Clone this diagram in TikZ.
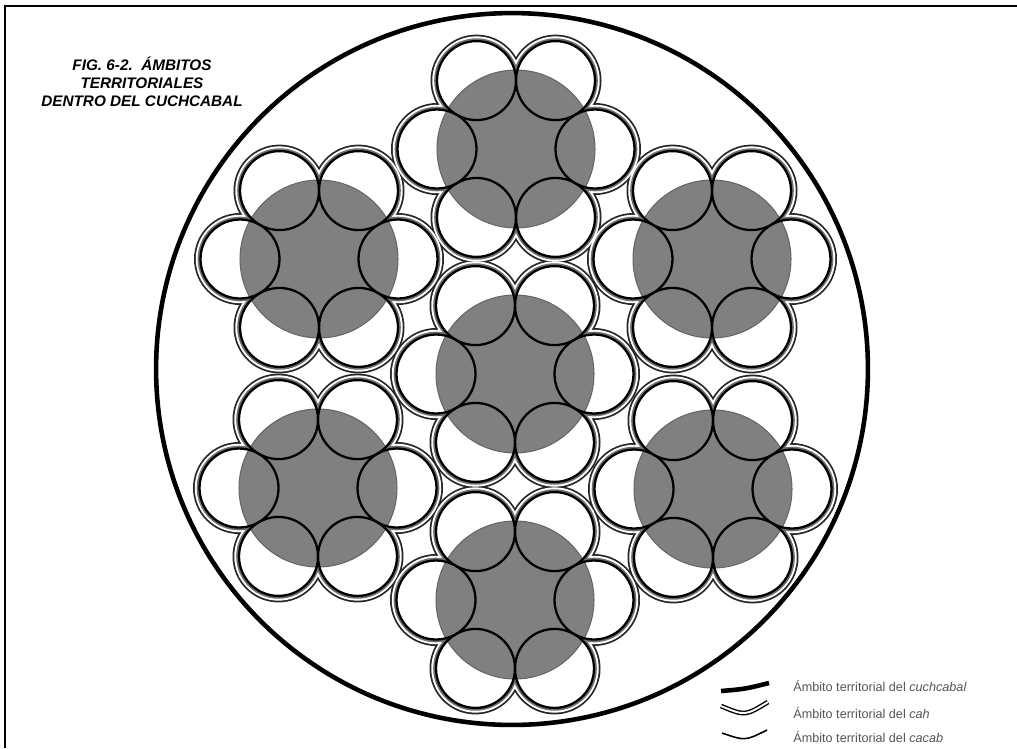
\documentclass[tikz,border=0pt]{standalone}
\usepackage{fontspec}
\setmainfont{Liberation Sans}
\usetikzlibrary{positioning}
\definecolor{cabgray}{RGB}{128,128,128}
\definecolor{cabedge}{RGB}{110,110,110}
\definecolor{cabtext}{RGB}{85,85,85}
\tikzset{
  cahouter/.style={draw=black!85, line width=7.4pt},
  cahwhite/.style={draw=white, line width=5.4pt},
  cahinner/.style={draw=cabedge, line width=3.2pt},
  cahfill/.style={fill=white},
  batabdisc/.style={fill=cabgray, draw=black!60, line width=0.6pt},
  cacabline/.style={draw=black, line width=1.3pt},
  cuchline/.style={draw=black, line width=2.6pt},
  frameline/.style={draw=black, line width=1.7pt},
  figtitle/.style={font=\bfseries\itshape\fontsize{8.7}{10.4}\selectfont, align=center},
  legtext/.style={font=\fontsize{7.2}{8}\selectfont, text=cabtext, anchor=west, inner sep=0pt}
}

\begin{document}
\begin{tikzpicture}[x=0.02cm, y=0.02cm]
\useasboundingbox (0,0) rectangle (1017,-748);

% -------- FRAME --------
\draw[frameline] (5,-748) -- (5,-6) -- (1017,-6);

% -------- CUCHCABAL --------
\draw[cuchline] (512,-369) circle[radius=7.12cm];

% -------- CAH: outer envelope of the six cacab circles --------
\foreach \st in {cahouter,cahwhite,cahinner,cahfill}
  \foreach \cx/\cy in {515/-374,516/-149,319/-259,712/-259,318/-488,713/-489,515/-600}
    \foreach \a in {0,60,...,300}
      \path[\st] ({\cx+79*cos(\a)},{\cy+79*sin(\a)}) circle[radius=0.79cm];

% -------- BATAB: gray discs --------
\foreach \cx/\cy in {515/-374,516/-149,319/-259,712/-259,318/-488,713/-489,515/-600}
  \path[batabdisc] (\cx,\cy) circle[radius=1.58cm];

% -------- CACAB circles --------
\foreach \cx/\cy in {515/-374,516/-149,319/-259,712/-259,318/-488,713/-489,515/-600}
  \foreach \a in {0,60,...,300}
    \path[cacabline] ({\cx+79*cos(\a)},{\cy+79*sin(\a)}) circle[radius=0.79cm];

% -------- TITLE --------
\node[figtitle] (title) at (142,-82) {FIG. 6-2.\ \ ÁMBITOS\\TERRITORIALES\\DENTRO DEL CUCHCABAL};

% -------- LEGEND --------
\node[legtext] (legcuch) at (793,-686) {Ámbito territorial del \textit{cuchcabal}};
\node[legtext] (legcah) at (793,-713) {Ámbito territorial del \textit{cah}};
\node[legtext] (legcacab) at (793,-737) {Ámbito territorial del \textit{cacab}};

\draw[cuchline] (721,-691) .. controls (745,-689) .. (769,-683);
\draw[draw=black, line width=0.8pt, double=white, double distance=1.1pt] (721,-706) .. controls (745,-716) .. (768,-702);
\draw[draw=black, line width=0.9pt] (722,-733) .. controls (745,-741) .. (767,-730);

\end{tikzpicture}
\end{document}
